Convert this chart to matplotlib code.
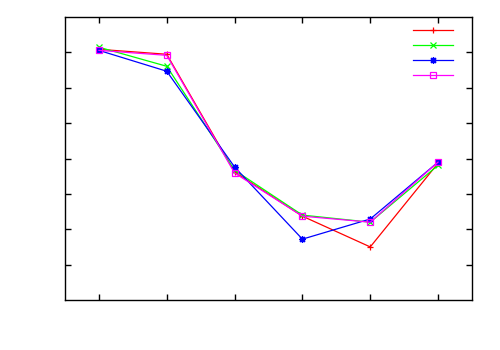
import matplotlib
matplotlib.use("Agg")
import matplotlib.pyplot as plt

x = [1, 2, 3, 4, 5, 6]
red = [7.09, 6.95, 3.62, 2.37, 1.50, 3.87]
green = [7.15, 6.61, 3.67, 2.40, 2.20, 3.81]
blue = [7.06, 6.47, 3.76, 1.72, 2.29, 3.90]
magenta = [7.06, 6.92, 3.59, 2.37, 2.20, 3.90]

# gnuplot-ish point types: plus, cross, asterisk, open square
series = [
    (red, "#ff0000", "+"),
    (green, "#00ff00", "x"),
    (blue, "#0000ff", (8, 2, 0)),
    (magenta, "#ff00ff", "s"),
]

fig = plt.figure(figsize=(5, 3.5), dpi=100)
ax = fig.add_axes([0.13, 0.143, 0.814, 0.808])

handles = []
for ys, color, marker in series:
    mfc = "none" if marker == "s" else color
    line, = ax.plot(x, ys, color=color, lw=0.9, marker=marker, markersize=5,
                    markerfacecolor=mfc, markeredgecolor=color, markeredgewidth=0.9)
    handles.append(line)

ax.set_xlim(0.5, 6.5)
ax.set_ylim(0, 8)
ax.set_xticks(x)
ax.set_yticks(range(1, 8))
ax.set_xticklabels([])
ax.set_yticklabels([])
ax.tick_params(direction="in", length=4, width=1, top=True, right=True)
for s in ax.spines.values():
    s.set_linewidth(1)
    s.set_color("black")

ax.legend(handles, [""] * 4, loc="upper right", bbox_to_anchor=(0.965, 0.984),
          frameon=False, fontsize=8, handlelength=3.6, labelspacing=0.45,
          handletextpad=0.0, borderaxespad=0)

fig.savefig("out.png", dpi=100)
